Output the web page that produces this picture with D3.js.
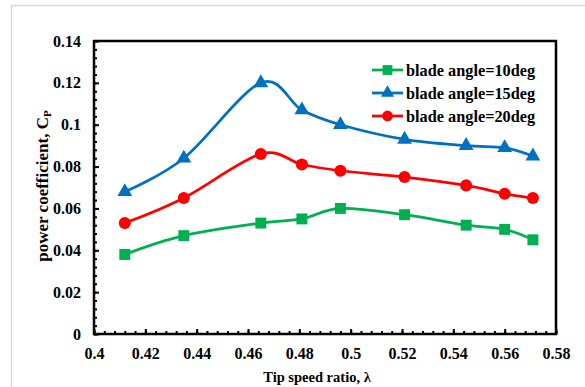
<!DOCTYPE html>
<html>
<head>
<meta charset="utf-8">
<script src="https://cdn.jsdelivr.net/npm/d3@7"></script>
<style>
  html, body { margin: 0; padding: 0; background: #fff; }
  svg { display: block; }
  text { font-family: "Liberation Serif", "Times New Roman", serif; font-weight: bold; fill: #000; }
</style>
</head>
<body>
<svg id="chart" width="585" height="387"></svg>
<script>
// Tip speed ratio (λ) for each measurement
const tipSpeedRatio = [0.412, 0.435, 0.465, 0.481, 0.496, 0.521, 0.545, 0.560, 0.571];

// Power coefficient Cp for each blade angle
const cp10 = [0.038, 0.047, 0.053, 0.055, 0.060, 0.057, 0.052, 0.050, 0.045];
const cp15 = [0.068, 0.084, 0.120, 0.107, 0.100, 0.093, 0.090, 0.089, 0.085];
const cp20 = [0.053, 0.065, 0.086, 0.081, 0.078, 0.075, 0.071, 0.067, 0.065];

const seriesNames = ["blade angle=10deg", "blade angle=15deg", "blade angle=20deg"];

const xTicks = [0.4, 0.42, 0.44, 0.46, 0.48, 0.5, 0.52, 0.54, 0.56, 0.58];
const yTicks = [0, 0.02, 0.04, 0.06, 0.08, 0.1, 0.12, 0.14];

const series = [
  { name: seriesNames[0], values: cp10, color: "#00b050", symbol: d3.symbolSquare, size: 120 },
  { name: seriesNames[1], values: cp15, color: "#0070c0", symbol: d3.symbolTriangle, size: 95 },
  { name: seriesNames[2], values: cp20, color: "#ff0000", symbol: d3.symbolCircle, size: 115 }
];

const svg = d3.select("#chart");

// light frame around the chart area
svg.append("rect")
  .attr("x", 11.5).attr("y", 5.5)
  .attr("width", 600).attr("height", 400)
  .attr("fill", "none").attr("stroke", "#d9d9d9").attr("stroke-width", 1.5);

const plot = { left: 94, top: 41, right: 556, bottom: 334 };

const x = d3.scaleLinear().domain([0.4, 0.58]).range([plot.left, plot.right]);
const y = d3.scaleLinear().domain([0, 0.14]).range([plot.bottom, plot.top]);

const fmt = d => (d === 0 ? "0" : String(+d.toFixed(2)));

// minor ticks (inside)
const xMinor = d3.range(0.4, 0.5801, 0.004).map(v => +v.toFixed(3));
const yMinor = d3.range(0, 0.1401, 0.004).map(v => +v.toFixed(3));

const xMinorAxis = svg.append("g")
  .attr("transform", `translate(0,${plot.bottom})`)
  .call(d3.axisTop(x).tickValues(xMinor).tickSize(3).tickFormat(""));
const yMinorAxis = svg.append("g")
  .attr("transform", `translate(${plot.left},0)`)
  .call(d3.axisRight(y).tickValues(yMinor).tickSize(3).tickFormat(""));
[xMinorAxis, yMinorAxis].forEach(g => {
  g.select(".domain").remove();
  g.selectAll("line").attr("stroke", "#000").attr("stroke-width", 2);
});

// major ticks with labels
const xAxis = svg.append("g")
  .attr("transform", `translate(0,${plot.bottom})`)
  .call(d3.axisBottom(x).tickValues(xTicks).tickSize(0).tickPadding(14).tickFormat(fmt));
xAxis.select(".domain").remove();
xAxis.selectAll("text").attr("font-size", 16).style("font-family", "Liberation Serif").style("font-weight", "bold");

const xMajor = svg.append("g")
  .attr("transform", `translate(0,${plot.bottom})`)
  .call(d3.axisTop(x).tickValues(xTicks).tickSize(5).tickFormat(""));
xMajor.select(".domain").remove();
xMajor.selectAll("line").attr("stroke", "#000").attr("stroke-width", 2);

const yAxis = svg.append("g")
  .attr("transform", `translate(${plot.left},0)`)
  .call(d3.axisLeft(y).tickValues(yTicks).tickSize(0).tickPadding(13).tickFormat(fmt));
yAxis.select(".domain").remove();
yAxis.selectAll("text").attr("font-size", 16).style("font-family", "Liberation Serif").style("font-weight", "bold");

const yMajor = svg.append("g")
  .attr("transform", `translate(${plot.left},0)`)
  .call(d3.axisRight(y).tickValues(yTicks).tickSize(5).tickFormat(""));
yMajor.select(".domain").remove();
yMajor.selectAll("line").attr("stroke", "#000").attr("stroke-width", 2);

// plot frame
svg.append("rect")
  .attr("x", plot.left).attr("y", plot.top)
  .attr("width", plot.right - plot.left).attr("height", plot.bottom - plot.top)
  .attr("fill", "none").attr("stroke", "#000").attr("stroke-width", 2.5);

// smoothed series lines
const line = d3.line()
  .x((d, i) => x(tipSpeedRatio[i]))
  .y(d => y(d))
  .curve(d3.curveCatmullRom.alpha(0));

series.forEach(s => {
  svg.append("path")
    .datum(s.values)
    .attr("d", line)
    .attr("fill", "none")
    .attr("stroke", s.color)
    .attr("stroke-width", 2.75);
});

series.forEach(s => {
  svg.append("g").selectAll("path")
    .data(s.values)
    .join("path")
    .attr("transform", (d, i) => `translate(${x(tipSpeedRatio[i])},${y(d)})`)
    .attr("d", d3.symbol().type(s.symbol).size(s.size))
    .attr("fill", s.color);
});

// legend
const legend = svg.append("g").attr("transform", "translate(372,70)");
series.forEach((s, i) => {
  const row = legend.append("g").attr("transform", `translate(0,${i * 23})`);
  row.append("line").attr("x1", 0).attr("x2", 31).attr("y1", 0).attr("y2", 0)
    .attr("stroke", s.color).attr("stroke-width", 2.75);
  row.append("path")
    .attr("transform", "translate(15.5,0)")
    .attr("d", d3.symbol().type(s.symbol).size(s.size * 0.8))
    .attr("fill", s.color);
  row.append("text").attr("x", 34).attr("y", 0).attr("dy", "0.35em")
    .attr("font-size", 16.3).text(s.name);
});

// axis titles
svg.append("text")
  .attr("x", 317).attr("y", 382)
  .attr("text-anchor", "middle").attr("font-size", 14.5)
  .text("Tip speed ratio, λ");

const yTitle = svg.append("text")
  .attr("transform", "translate(48,186) rotate(-90)")
  .attr("text-anchor", "middle").attr("font-size", 17);
yTitle.append("tspan").text("power coefficient, C");
yTitle.append("tspan").attr("font-size", 11).attr("dy", 3).text("P");
</script>
</body>
</html>
